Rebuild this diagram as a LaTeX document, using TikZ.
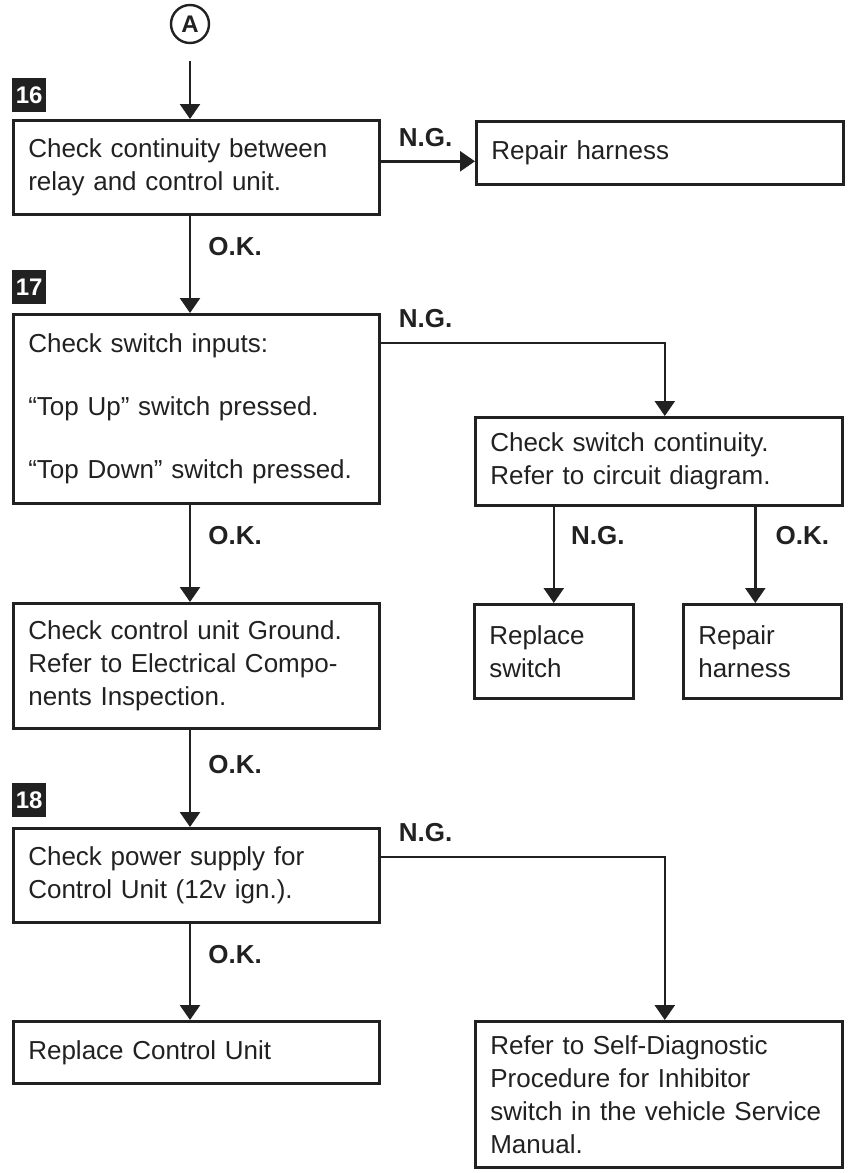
\documentclass[tikz,border=0pt]{standalone}
\usepackage{fontspec}
\setmainfont{Liberation Sans}
\usetikzlibrary{arrows.meta,positioning}
\definecolor{ink}{gray}{0.13}
\tikzset{
  box/.style={draw=ink, line width=2.6pt, anchor=north west, align=left,
    inner xsep=15pt, inner ysep=0pt, text=ink,
    font=\fontsize{26}{33}\selectfont},
  lbl/.style={inner sep=0pt, text=ink, font=\fontsize{26}{31}\selectfont\bfseries},
  stepno/.style={fill=ink, text=white, minimum size=34pt, inner sep=0pt,
    font=\fontsize{24}{24}\selectfont\bfseries},
  arr/.style={draw=ink, line width=2.6pt, -{Triangle[length=15pt,width=20pt]}},
}
\begin{document}
\begin{tikzpicture}[x=1pt,y=-1pt]
        \useasboundingbox (0,0) rectangle (849,1173);

        \node [circle, draw=ink, line width=2.4pt, minimum size=38pt, inner sep=0pt,
               text=ink, font=\fontsize{24}{24}\selectfont\bfseries] (A) at (190,24) {A};

        % left column
        \node [box, text width=336pt, minimum height=94pt] (b16) at (12,119)
            {Check continuity between\\relay and control unit.};
        \node [box, text width=336pt, minimum height=189pt] (b17) at (12,313)
            {Check switch inputs:\\[30pt]“Top Up” switch pressed.\\[30pt]“Top Down” switch pressed.};
        \node [box, text width=336pt, minimum height=125pt] (gnd) at (12,602)
            {Check control unit Ground.\\Refer to Electrical Compo-\\nents Inspection.};
        \node [box, text width=336pt, minimum height=94pt] (b18) at (12,827)
            {Check power supply for\\Control Unit (12v ign.).};
        \node [box, text width=336pt, minimum height=62pt] (rcu) at (12,1020)
            {Replace Control Unit};

        \node [stepno, above right=7pt and 0pt of b16.north west] (s16) {16};
        \node [stepno, above right=9pt and 0pt of b17.north west] (s17) {17};
        \node [stepno, above right=10pt and 0pt of b18.north west] (s18) {18};

        % right column
        \node [box, text width=337pt, minimum height=63pt] (rh1) at (475,120)
            {Repair harness};
        \node [box, text width=337pt, minimum height=88pt] (chk) at (474,416)
            {Check switch continuity.\\Refer to circuit diagram.};
        \node [box, text width=129pt, minimum height=94pt] (rs) at (473,603)
            {Replace\\switch};
        \node [box, text width=128pt, minimum height=94pt] (rh2) at (682,603)
            {Repair\\harness};
        \node [box, text width=337pt, minimum height=146pt] (sdp) at (474,1020)
            {Refer to Self-Diagnostic\\Procedure for Inhibitor\\switch in the vehicle Service\\Manual.};

        % O.K. path
        \draw [arr, shorten <=17pt] (A) -- (A |- b16.north);
        \draw [arr] (A |- b16.south) -- node [lbl, right=17pt, pos=.32] {O.K.} (A |- b17.north);
        \draw [arr] (A |- b17.south) -- node [lbl, right=17pt, pos=.32] {O.K.} (A |- gnd.north);
        \draw [arr] (A |- gnd.south) -- node [lbl, right=17pt, pos=.36] {O.K.} (A |- b18.north);
        \draw [arr] (A |- b18.south) -- node [lbl, right=17pt, pos=.32] {O.K.} (A |- rcu.north);

        % N.G. branches
        \path (b16.east) ++(0,-6) coordinate (n16);
        \draw [arr] (n16) -- node [lbl, above right=13pt and 17pt, pos=0] {N.G.} (n16 -| rh1.west);

        \path (b17.north east) ++(0,30) coordinate (n17);
        \draw [arr] (n17) -| node [lbl, above right=14pt and 17pt, pos=0] {N.G.} ([xshift=6pt]chk.north);

        \path (b18.north east) ++(0,30) coordinate (n18);
        \draw [arr] (n18) -| node [lbl, above right=14pt and 17pt, pos=0] {N.G.} ([xshift=6pt]sdp.north);

        \draw [arr] (chk.south -| rs.north) -- node [lbl, right=16pt, pos=.3] {N.G.} (rs.north);
        \draw [arr] ([xshift=-7pt]chk.south -| rh2.north) -- node [lbl, right=19pt, pos=.3] {O.K.} ([xshift=-7pt]rh2.north);
\end{tikzpicture}
\end{document}
